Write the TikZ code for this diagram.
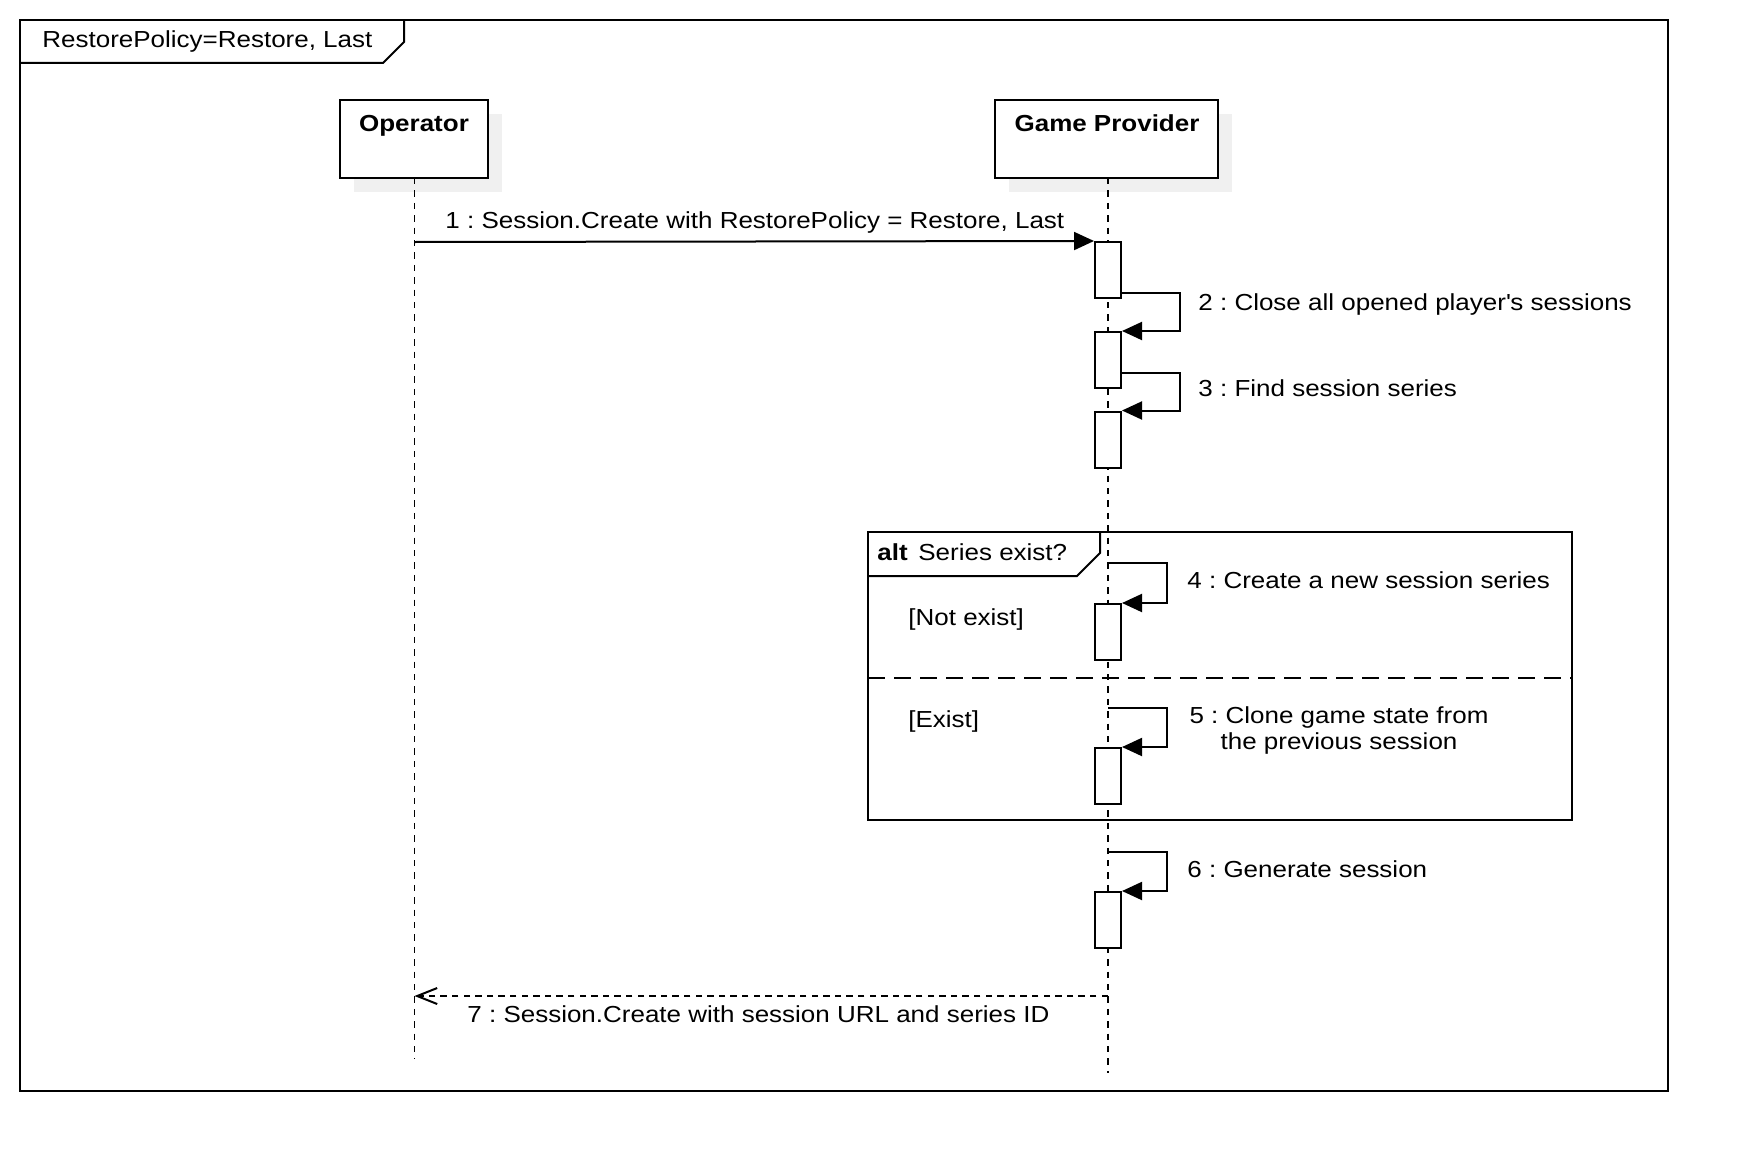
\documentclass[tikz,border=0pt]{standalone}
\usepackage{fontspec}
\setmainfont{Liberation Sans}[FakeStretch=1.12]
\usetikzlibrary{arrows.meta,calc}
\frenchspacing
\begin{document}
\begin{tikzpicture}[x=0.5pt,y=-0.5pt,
  txt/.style={inner sep=0pt, font=\fontsize{11.6}{14}\selectfont},
  btxt/.style={txt, font=\fontsize{11.6}{14}\selectfont\bfseries},
  border/.style={draw, line width=1pt},
  participant/.style={border, fill=white, minimum width=#1, minimum height=39pt, inner sep=0pt},
  pshadow/.style={fill=black!6, draw=none, minimum width=#1, minimum height=39pt, inner sep=0pt},
  lifeline/.style={line width=0.75pt, dash pattern=on 3.2pt off 3pt},
  actbox/.style={border, fill=white, minimum width=13pt, minimum height=28pt, inner sep=0pt},
  msg/.style={line width=1pt, -{Triangle[length=10pt,width=9pt]}},
  reply/.style={line width=1pt, dash pattern=on 3.2pt off 2.6pt, -{Straight Barb[length=10pt,width=8pt,line width=1pt]}},
  separator/.style={line width=1pt, dash pattern=on 8.5pt off 4.5pt}]
\useasboundingbox (0,0) rectangle (1748,1172);

% outer frame with its name tab
\draw[border] (20,20) rectangle (1668,1091);
\draw[border] (20,63) -- (383,63) -- (404,42) -- (404,20);
\node[txt, anchor=base west] (title) at (42,48) {RestorePolicy=Restore, Last};

% participants
\node[pshadow=74pt] (opshadow) at (428,153) {};
\node[pshadow=111.5pt] (gpshadow) at (1120.5,153) {};
\node[participant=74pt] (op) at (414,139) {};
\node[participant=111.5pt] (gp) at (1106.5,139) {};
\node[btxt, anchor=base] (opname) at (414,132) {Operator};
\node[btxt, anchor=base] (gpname) at (1107,132) {Game Provider};

% lifelines
\coordinate (opend) at (414.5,1059);
\coordinate (gpend) at (1108,1073);
\draw[lifeline] (414.5,178) -- (opend);
\draw[lifeline] (1108,178) -- (gpend);

% alt fragment
\draw[border] (868,532) rectangle (1572,820);
\draw[border] (868,576) -- (1077,576) -- (1100,553) -- (1100,532);
\draw[separator] (868,678) -- (1572,678);
\node[btxt, anchor=base west] (altkw) at (877,560) {alt};
\node[txt, anchor=base west] (altcond) at (918,560) {Series exist?};
\node[txt, anchor=base west] (g1) at (908,625) {[Not exist]};
\node[txt, anchor=base west] (g2) at (908,727) {[Exist]};

% activation bars
\node[actbox] (a1) at (1108,270) {};
\node[actbox] (a2) at (1108,360) {};
\node[actbox] (a3) at (1108,439.5) {};
\node[actbox] (a4) at (1108,632) {};
\node[actbox] (a5) at (1108,776) {};
\node[actbox] (a6) at (1108,920) {};

% messages
\coordinate (m1s) at (414.5,242);
\draw[msg] (m1s) -- (a1.north west);
\node[txt, anchor=base west] (l1) at (445,228) {1 : Session.Create with RestorePolicy = Restore, Last};

\draw[msg] ($(a1.south east)+(0,-6)$) -- ++(58,0) |- (a2.north east);
\node[txt, anchor=base west] (l2) at (1198,310) {2 : Close all opened player\textquotesingle s sessions};

\draw[msg] ($(a2.south east)+(0,-16)$) -- ++(58,0) |- (a3.north east);
\node[txt, anchor=base west] (l3) at (1198,396) {3 : Find session series};

\coordinate (m4s) at (1108,563);
\draw[msg] (m4s) -- ++(59,0) |- (a4.north east);
\node[txt, anchor=base west] (l4) at (1187,588) {4 : Create a new session series};

\coordinate (m5s) at (1108,708);
\draw[msg] (m5s) -- ++(59,0) |- (a5.north east);
\node[txt, anchor=base] (l5a) at (1339,723) {5 : Clone game state from};
\node[txt, anchor=base] (l5b) at (1339,749) {the previous session};

\coordinate (m6s) at (1108,852);
\draw[msg] (m6s) -- ++(59,0) |- (a6.north east);
\node[txt, anchor=base west] (l6) at (1187,877) {6 : Generate session};

\coordinate (m7s) at (1108,996);
\coordinate (m7e) at (414.5,996);
\draw[reply] (m7s) -- (m7e);
\node[txt, anchor=base west] (l7) at (467,1022) {7 : Session.Create with session URL and series ID};
\end{tikzpicture}
\end{document}
